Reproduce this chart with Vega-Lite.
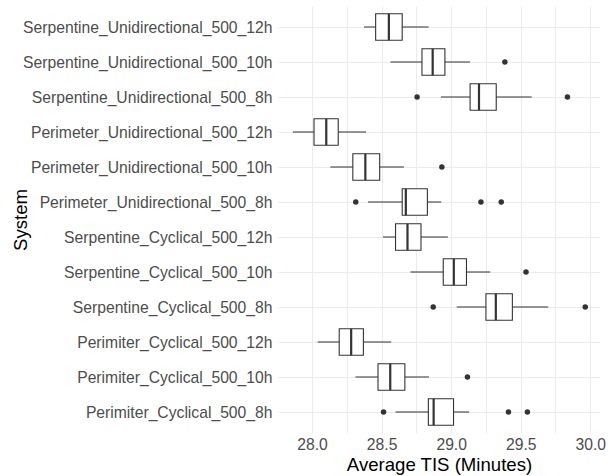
{
  "$schema": "https://vega.github.io/schema/vega-lite/v6.json",
  "autosize": {"type": "none"},
  "width": 322,
  "height": 427,
  "padding": {"left": 278, "top": 6, "right": 8, "bottom": 43},
  "background": "white",
  "config": {
    "font": "Liberation Sans",
    "view": {"stroke": null}
  },
  "datasets": {
    "boxes": [
      {"system": "Serpentine_Unidirectional_500_12h", "lower": 28.374, "q1": 28.457, "median": 28.552, "q3": 28.648, "upper": 28.838},
      {"system": "Serpentine_Unidirectional_500_10h", "lower": 28.564, "q1": 28.790, "median": 28.867, "q3": 28.955, "upper": 29.136},
      {"system": "Serpentine_Unidirectional_500_8h", "lower": 28.926, "q1": 29.136, "median": 29.200, "q3": 29.324, "upper": 29.579},
      {"system": "Perimeter_Unidirectional_500_12h", "lower": 27.862, "q1": 28.014, "median": 28.102, "q3": 28.188, "upper": 28.388},
      {"system": "Perimeter_Unidirectional_500_10h", "lower": 28.131, "q1": 28.293, "median": 28.383, "q3": 28.486, "upper": 28.660},
      {"system": "Perimeter_Unidirectional_500_8h", "lower": 28.402, "q1": 28.648, "median": 28.674, "q3": 28.829, "upper": 28.929},
      {"system": "Serpentine_Cyclical_500_12h", "lower": 28.510, "q1": 28.600, "median": 28.686, "q3": 28.783, "upper": 28.976},
      {"system": "Serpentine_Cyclical_500_10h", "lower": 28.707, "q1": 28.943, "median": 29.019, "q3": 29.110, "upper": 29.281},
      {"system": "Serpentine_Cyclical_500_8h", "lower": 29.040, "q1": 29.250, "median": 29.321, "q3": 29.440, "upper": 29.698},
      {"system": "Perimiter_Cyclical_500_12h", "lower": 28.040, "q1": 28.195, "median": 28.281, "q3": 28.369, "upper": 28.569},
      {"system": "Perimiter_Cyclical_500_10h", "lower": 28.312, "q1": 28.474, "median": 28.562, "q3": 28.667, "upper": 28.840},
      {"system": "Perimiter_Cyclical_500_8h", "lower": 28.600, "q1": 28.836, "median": 28.874, "q3": 29.017, "upper": 29.129}
    ],
    "outliers": [
      {"system": "Serpentine_Unidirectional_500_10h", "value": 29.386},
      {"system": "Serpentine_Unidirectional_500_8h", "value": 28.755},
      {"system": "Serpentine_Unidirectional_500_8h", "value": 29.836},
      {"system": "Perimeter_Unidirectional_500_10h", "value": 28.933},
      {"system": "Perimeter_Unidirectional_500_8h", "value": 28.314},
      {"system": "Perimeter_Unidirectional_500_8h", "value": 29.214},
      {"system": "Perimeter_Unidirectional_500_8h", "value": 29.360},
      {"system": "Serpentine_Cyclical_500_10h", "value": 29.538},
      {"system": "Serpentine_Cyclical_500_8h", "value": 28.871},
      {"system": "Serpentine_Cyclical_500_8h", "value": 29.964},
      {"system": "Perimiter_Cyclical_500_10h", "value": 29.117},
      {"system": "Perimiter_Cyclical_500_8h", "value": 28.514},
      {"system": "Perimiter_Cyclical_500_8h", "value": 29.412},
      {"system": "Perimiter_Cyclical_500_8h", "value": 29.548}
    ]
  },
  "encoding": {
    "y": {
      "field": "system",
      "type": "nominal",
      "sort": ["Serpentine_Unidirectional_500_12h", "Serpentine_Unidirectional_500_10h", "Serpentine_Unidirectional_500_8h", "Perimeter_Unidirectional_500_12h", "Perimeter_Unidirectional_500_10h", "Perimeter_Unidirectional_500_8h", "Serpentine_Cyclical_500_12h", "Serpentine_Cyclical_500_10h", "Serpentine_Cyclical_500_8h", "Perimiter_Cyclical_500_12h", "Perimiter_Cyclical_500_10h", "Perimiter_Cyclical_500_8h"],
      "scale": {"type": "point", "padding": 0.6},
      "axis": {
        "title": "System",
        "titleFontSize": 18.6,
        "titleFontWeight": "normal",
        "titleColor": "#000000",
        "titleX": -258,
        "titleBaseline": "middle",
        "labelFontSize": 15.7,
        "labelColor": "#4D4D4D",
        "labelPadding": 6,
        "labelLimit": 0,
        "ticks": false,
        "domain": false,
        "grid": true,
        "gridColor": "#EBEBEB",
        "gridWidth": 1.1
      }
    }
  },
  "layer": [
    {
      "data": {"name": "boxes"},
      "mark": {"type": "rule", "color": "#333333", "strokeWidth": 1.1},
      "encoding": {
        "x": {
          "field": "lower",
          "type": "quantitative",
          "scale": {"domain": [27.755, 30.07], "nice": false, "zero": false},
          "axis": {
            "title": "Average TIS (Minutes)",
            "titleFontSize": 18.6,
            "titleFontWeight": "normal",
            "titleColor": "#000000",
            "titlePadding": 4,
            "values": [28, 28.25, 28.5, 28.75, 29, 29.25, 29.5, 29.75, 30],
            "labelExpr": "datum.value % 0.5 == 0 ? format(datum.value, '.1f') : ''",
            "labelFontSize": 15.7,
            "labelColor": "#4D4D4D",
            "labelPadding": 4,
            "ticks": false,
            "domain": false,
            "grid": true,
            "gridColor": "#EBEBEB",
            "gridWidth": 1.1
          }
        },
        "x2": {"field": "upper"}
      }
    },
    {
      "data": {"name": "boxes"},
      "mark": {"type": "bar", "fill": "white", "stroke": "#333333", "strokeWidth": 1.1, "size": 26.5},
      "encoding": {
        "x": {"field": "q1", "type": "quantitative"},
        "x2": {"field": "q3"}
      }
    },
    {
      "data": {"name": "boxes"},
      "mark": {"type": "tick", "color": "#333333", "thickness": 2.2, "size": 26.5, "opacity": 1},
      "encoding": {
        "x": {"field": "median", "type": "quantitative"}
      }
    },
    {
      "data": {"name": "outliers"},
      "mark": {"type": "circle", "color": "#333333", "size": 30, "opacity": 1},
      "encoding": {
        "x": {"field": "value", "type": "quantitative"}
      }
    }
  ]
}
